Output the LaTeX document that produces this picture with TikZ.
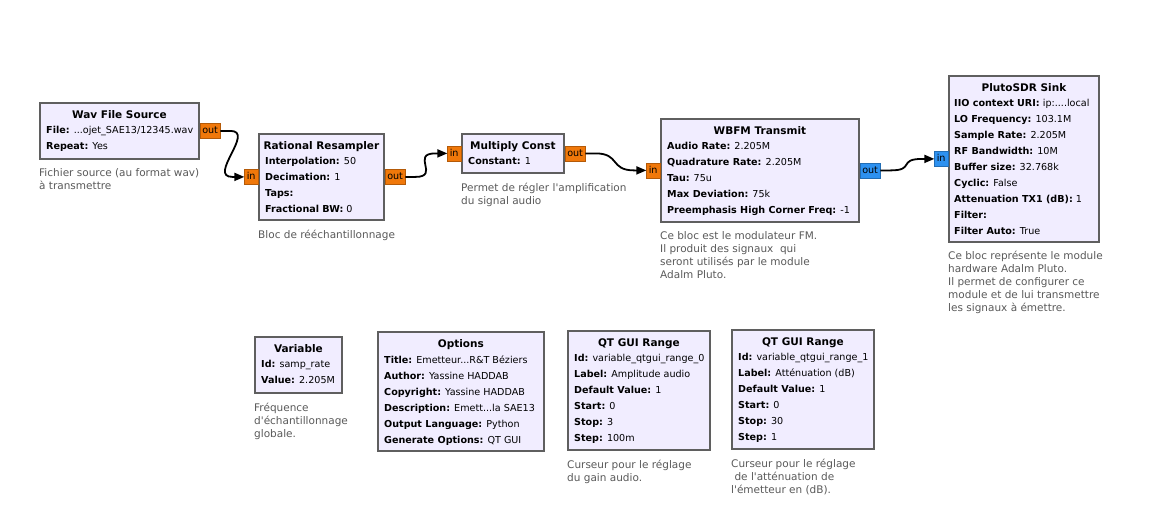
\documentclass[tikz,border=0pt]{standalone}
\usepackage{fontspec}
\setmainfont{DejaVu Sans}[Ligatures=TeXOff]
\usetikzlibrary{arrows.meta}
\definecolor{boxfill}{RGB}{241,237,255}
\definecolor{boxline}{RGB}{95,95,95}
\definecolor{portorange}{RGB}{240,120,10}
\definecolor{portblue}{RGB}{45,145,240}
\definecolor{cmtgray}{RGB}{90,90,90}
\newcommand\prmkey[1]{\textbf{#1}}
\tikzset{
  blk/.style={draw=boxline, line width=1.8pt, fill=boxfill, anchor=north west, inner sep=0pt},
  ttl/.style={font=\fontsize{10.5}{12}\selectfont\bfseries, anchor=base, inner sep=0pt},
  prm/.style={font=\fontsize{9.6}{16}\selectfont, align=left, anchor=north west, inner sep=0pt},
  cmt/.style={font=\fontsize{10.5}{13}\selectfont, text=cmtgray, align=left, anchor=north west, inner sep=0pt},
  portbase/.style={line width=0.5pt, font=\fontsize{9.6}{10}\selectfont, inner xsep=2.2pt, inner ysep=0pt, minimum height=15pt, text height=7pt, text depth=1pt},
  porto/.style={portbase, fill=portorange, draw=portorange!75!black},
  portb/.style={portbase, fill=portblue, draw=portblue!75!black},
  outp/.style={anchor=west},
  inp/.style={anchor=east},
  conn/.style={line width=1.8pt, -{Triangle[length=10pt,width=8pt]}},
}
\begin{document}
\begin{tikzpicture}[x=1pt,y=-1pt]
\useasboundingbox[fill=white] (0,0) rectangle (1153,525);

% ---------- Wav File Source
\node[blk, minimum width=159pt, minimum height=56pt] (wav) at (39,102) {};
\node[ttl] (wav-t) at ([yshift=-16pt]wav.north) {Wav File Source};
\node[prm] (wav-p) at ([xshift=7pt,yshift=-24.3pt]wav.north west)
  {\prmkey{File:} ...ojet\_SAE13/12345.wav\\\prmkey{Repeat:} Yes};
\node[cmt] (wav-c) at ([yshift=-9pt]wav.south west)
  {Fichier source (au format wav)\\à transmettre};
\node[porto, outp] (wav-o) at (wav.east) {out};

% ---------- Rational Resampler
\node[blk, minimum width=125pt, minimum height=86pt] (rr) at (258,133) {};
\node[ttl] (rr-t) at ([yshift=-16pt]rr.north) {Rational Resampler};
\node[prm] (rr-p) at ([xshift=7pt,yshift=-24.3pt]rr.north west)
  {\prmkey{Interpolation:} 50\\\prmkey{Decimation:} 1\\\prmkey{Taps:}\\\prmkey{Fractional BW:} 0};
\node[cmt] (rr-c) at ([yshift=-9pt]rr.south west) {Bloc de rééchantillonnage};
\node[porto, inp] (rr-i) at (rr.west) {in};
\node[porto, outp] (rr-o) at (rr.east) {out};

% ---------- Multiply Const
\node[blk, minimum width=102pt, minimum height=39pt] (mc) at (461,133) {};
\node[ttl] (mc-t) at ([yshift=-16pt]mc.north) {Multiply Const};
\node[prm] (mc-p) at ([xshift=7pt,yshift=-24.3pt]mc.north west) {\prmkey{Constant:} 1};
\node[cmt] (mc-c) at ([yshift=-9pt]mc.south west)
  {Permet de régler l'amplification\\du signal audio};
\node[porto, inp] (mc-i) at (mc.west) {in};
\node[porto, outp] (mc-o) at (mc.east) {out};

% ---------- WBFM Transmit
\node[blk, minimum width=198pt, minimum height=103pt] (wb) at (660,118) {};
\node[ttl] (wb-t) at ([yshift=-16pt]wb.north) {WBFM Transmit};
\node[prm] (wb-p) at ([xshift=7pt,yshift=-24.3pt]wb.north west)
  {\prmkey{Audio Rate:} 2.205M\\\prmkey{Quadrature Rate:} 2.205M\\\prmkey{Tau:} 75u\\\prmkey{Max Deviation:} 75k\\\prmkey{Preemphasis High Corner Freq:} -1};
\node[cmt] (wb-c) at ([yshift=-9pt]wb.south west)
  {Ce bloc est le modulateur FM.\\Il produit des signaux \ qui\\seront utilisés par le module\\Adalm Pluto.};
\node[porto, inp] (wb-i) at (wb.west) {in};
\node[portb, outp] (wb-o) at (wb.east) {out};

% ---------- PlutoSDR Sink
\node[blk, minimum width=150pt, minimum height=166pt] (pl) at (948,75) {};
\node[ttl] (pl-t) at ([yshift=-16pt]pl.north) {PlutoSDR Sink};
\node[prm] (pl-p) at ([xshift=6pt,yshift=-24.3pt]pl.north west)
  {\prmkey{IIO context URI:} ip:....local\\\prmkey{LO Frequency:} 103.1M\\\prmkey{Sample Rate:} 2.205M\\\prmkey{RF Bandwidth:} 10M\\\prmkey{Buffer size:} 32.768k\\\prmkey{Cyclic:} False\\\prmkey{Attenuation TX1 (dB):} 1\\\prmkey{Filter:}\\\prmkey{Filter Auto:} True};
\node[cmt] (pl-c) at ([yshift=-8.5pt]pl.south west)
  {Ce bloc représente le module\\hardware Adalm Pluto.\\Il permet de configurer ce\\module et de lui transmettre\\les signaux à émettre.};
\node[portb, inp] (pl-i) at (pl.west) {in};

% ---------- Variable
\node[blk, minimum width=87pt, minimum height=56pt] (var) at (254,336) {};
\node[ttl] (var-t) at ([yshift=-16pt]var.north) {Variable};
\node[prm] (var-p) at ([xshift=7pt,yshift=-24.3pt]var.north west)
  {\prmkey{Id:} samp\_rate\\\prmkey{Value:} 2.205M};
\node[cmt] (var-c) at ([yshift=-9pt]var.south west)
  {Fréquence\\d'échantillonnage\\globale.};

% ---------- Options
\node[blk, minimum width=166pt, minimum height=119pt] (opt) at (377,331) {};
\node[ttl] (opt-t) at ([yshift=-16pt]opt.north) {Options};
\node[prm] (opt-p) at ([xshift=7pt,yshift=-24.3pt]opt.north west)
  {\prmkey{Title:} Emetteur...R\&T Béziers\\\prmkey{Author:} Yassine HADDAB\\\prmkey{Copyright:} Yassine HADDAB\\\prmkey{Description:} Emett...la SAE13\\\prmkey{Output Language:} Python\\\prmkey{Generate Options:} QT GUI};

% ---------- QT GUI Range 0
\node[blk, minimum width=142pt, minimum height=119pt] (q0) at (567,330) {};
\node[ttl] (q0-t) at ([yshift=-16pt]q0.north) {QT GUI Range};
\node[prm] (q0-p) at ([xshift=7pt,yshift=-24.3pt]q0.north west)
  {\prmkey{Id:} variable\_qtgui\_range\_0\\\prmkey{Label:} Amplitude audio\\\prmkey{Default Value:} 1\\\prmkey{Start:} 0\\\prmkey{Stop:} 3\\\prmkey{Step:} 100m};
\node[cmt] (q0-c) at ([yshift=-9pt]q0.south west)
  {Curseur pour le réglage\\du gain audio.};

% ---------- QT GUI Range 1
\node[blk, minimum width=142pt, minimum height=119pt] (q1) at (731,329) {};
\node[ttl] (q1-t) at ([yshift=-16pt]q1.north) {QT GUI Range};
\node[prm] (q1-p) at ([xshift=7pt,yshift=-24.3pt]q1.north west)
  {\prmkey{Id:} variable\_qtgui\_range\_1\\\prmkey{Label:} Atténuation (dB)\\\prmkey{Default Value:} 1\\\prmkey{Start:} 0\\\prmkey{Stop:} 30\\\prmkey{Step:} 1};
\node[cmt] (q1-c) at ([yshift=-9pt]q1.south west)
  {Curseur pour le réglage\\\ de l'atténuation de\\l'émetteur en (dB).};

% ---------- connectors
\draw[conn] (wav-o.east) -- ++(10,0) .. controls +(25,0) and +(-25,0) .. ([xshift=-12pt]rr-i.west) -- (rr-i.west);
\draw[conn] (rr-o.east) -- ++(10,0) .. controls +(25,0) and +(-25,0) .. ([xshift=-12pt]mc-i.west) -- (mc-i.west);
\draw[conn] (mc-o.east) -- ++(10,0) .. controls +(25,0) and +(-25,0) .. ([xshift=-12pt]wb-i.west) -- (wb-i.west);
\draw[conn] (wb-o.east) -- ++(10,0) .. controls +(25,0) and +(-25,0) .. ([xshift=-12pt]pl-i.west) -- (pl-i.west);
\end{tikzpicture}
\end{document}
